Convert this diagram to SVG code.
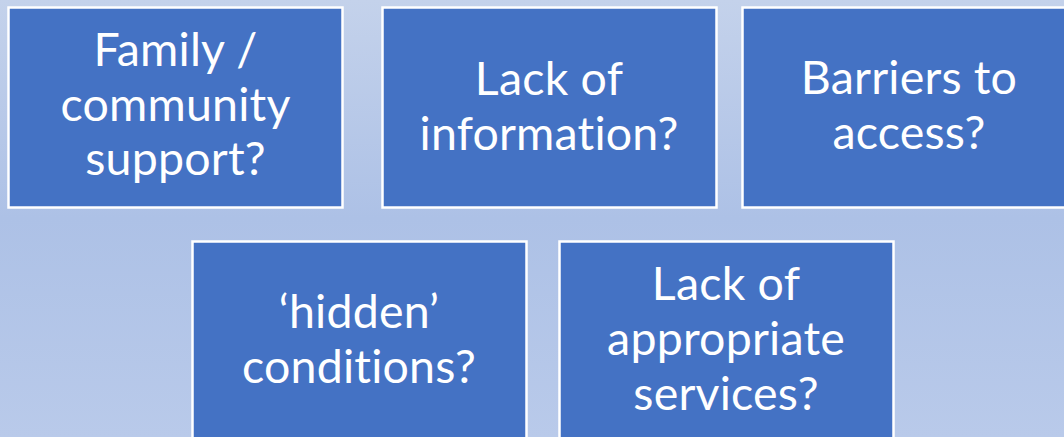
<svg xmlns="http://www.w3.org/2000/svg" width="1064" height="437" viewBox="0 0 1064 437">
<defs>
<linearGradient id="bg" x1="0" y1="0" x2="0" y2="1">
<stop offset="0" stop-color="#C4D2EB"/>
<stop offset="0.5" stop-color="#ADC1E6"/>
<stop offset="1" stop-color="#B9CAEA"/>
</linearGradient>
<style>
.box{fill:#4472C4;stroke:#FFFFFF;stroke-width:2.5}
.t{font-family:Lato,"Open Sans",sans-serif;font-size:46.5px;fill:#FFFFFF;text-anchor:middle;font-variant-ligatures:none;font-feature-settings:"liga" 0,"clig" 0,"dlig" 0;letter-spacing:0.2px}
</style>
</defs>
<rect x="0" y="0" width="1064" height="437" fill="url(#bg)"/>
<g id="connectors"></g>
<g id="node1">
<rect class="box" x="8.5" y="7.5" width="334" height="200"/>
<text class="t" x="175.5" y="66">Family /</text>
<text class="t" x="175.5" y="121">community</text>
<text class="t" x="175.5" y="175">support?</text>
</g>
<g id="node2">
<rect class="box" x="382.5" y="7.5" width="334" height="200"/>
<text class="t" x="549" y="95">Lack of</text>
<text class="t" x="549" y="150">information?</text>
</g>
<g id="node3">
<rect class="box" x="742.5" y="7.5" width="334" height="200"/>
<text class="t" x="909" y="94">Barriers to</text>
<text class="t" x="909" y="149">access?</text>
</g>
<g id="node4">
<rect class="box" x="192.5" y="241.5" width="334" height="200"/>
<text class="t" x="359" y="328">‘hidden’</text>
<text class="t" x="359" y="383">conditions?</text>
</g>
<g id="node5">
<rect class="box" x="559.5" y="241.5" width="334" height="200"/>
<text class="t" x="726" y="300">Lack of</text>
<text class="t" x="726" y="355">appropriate</text>
<text class="t" x="726" y="410">services?</text>
</g>
</svg>
